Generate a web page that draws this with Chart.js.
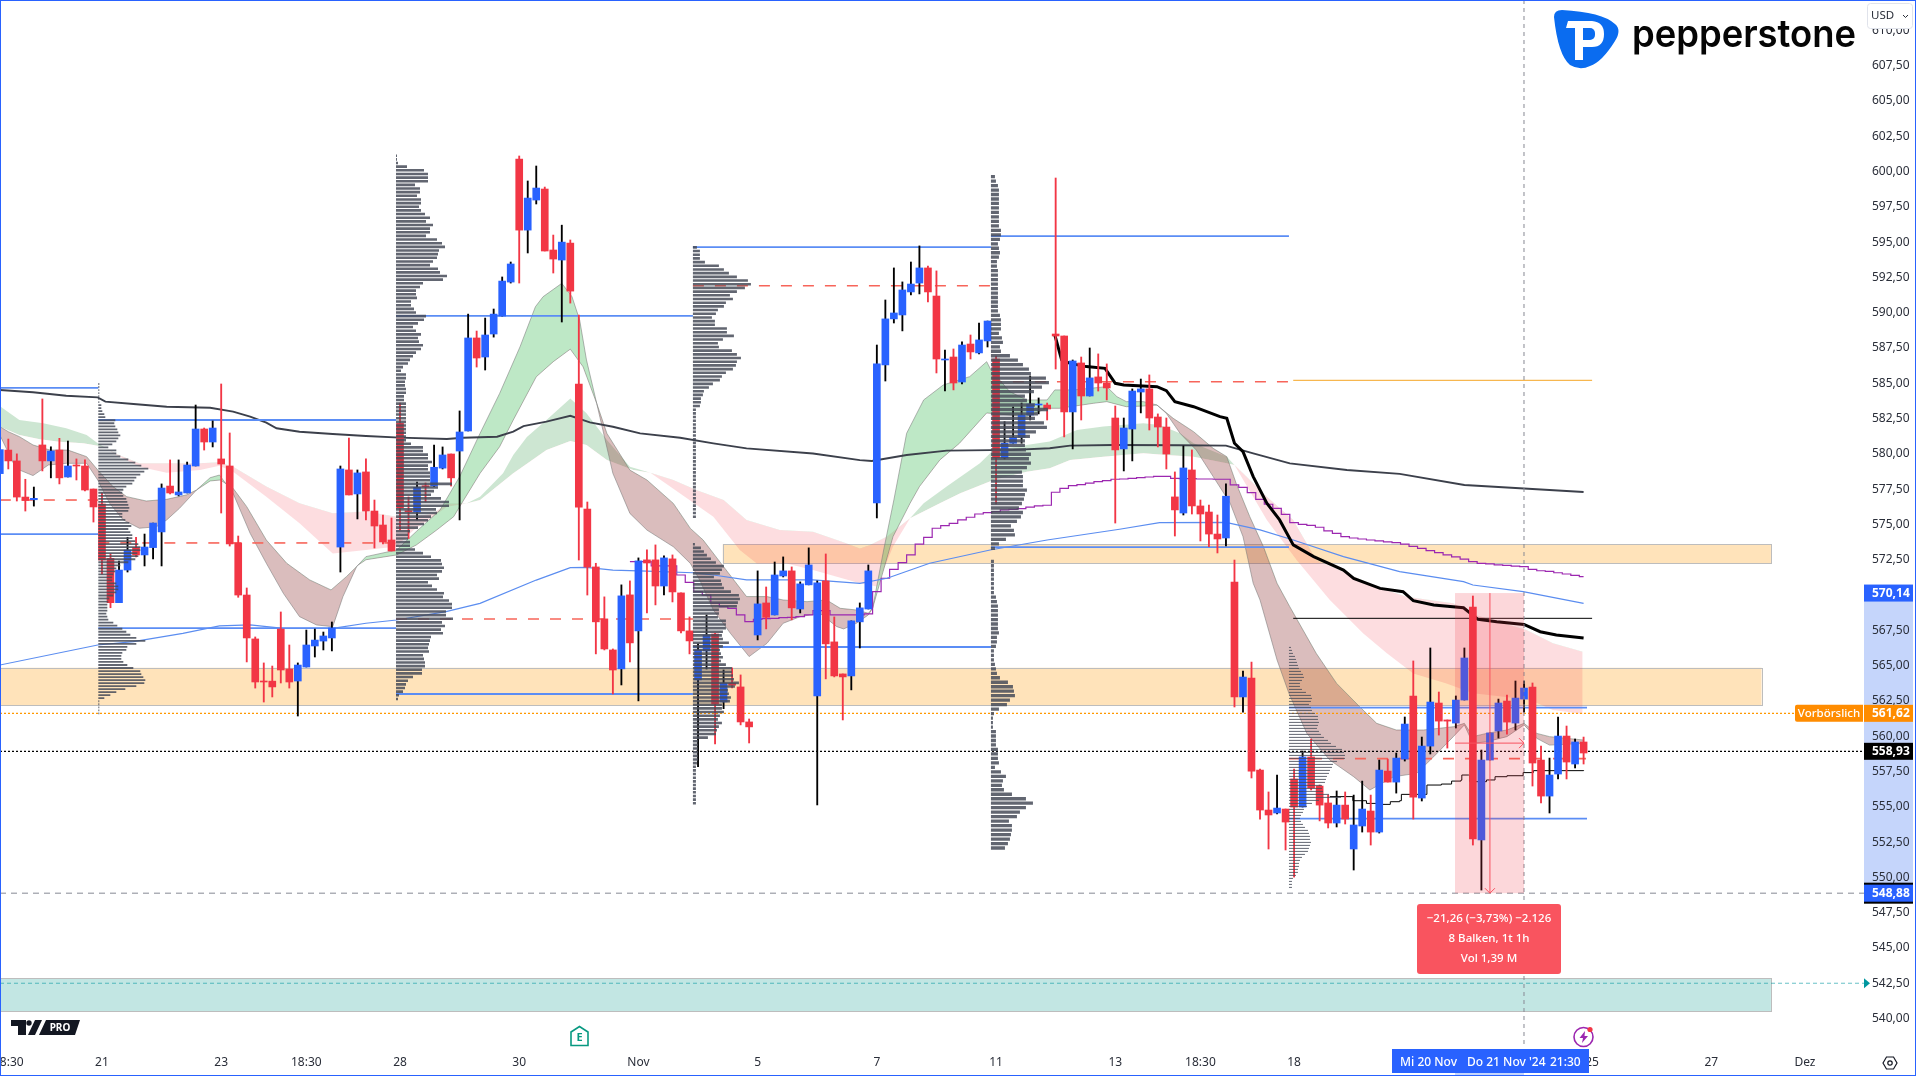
<!DOCTYPE html>
<html>
<head>
<meta charset="utf-8">
<title>Chart</title>
<script src="https://cdn.jsdelivr.net/npm/chart.js@4"></script>
<style>
html, body { margin: 0; padding: 0; background: #fff; }
canvas { display: block; }
</style>
</head>
<body>
<canvas id="myChart" width="1916" height="1076" style="width:1916px;height:1076px"></canvas>
<script>
// candles, one entry per bar
var opens = [578.6,580.27,579.5,576.94,576.75,580.63,579.5,580.27,578.36,579.2,
  579.14,577.51,576.45,572.6,569.46,571.77,573.36,572.84,573.36,574.47,
  577.72,577.09,577.23,579.14,581.76,580.84,579.64,579.14,573.69,570.0,
  566.89,563.9,563.9,567.59,564.76,563.91,564.9,566.39,566.74,566.96,
  573.4,578.86,577.16,578.72,575.95,574.96,573.9,582.16,575.95,575.88,
  577.72,577.72,578.99,579.99,580.2,581.62,588.21,586.86,588.49,589.76,
  592.17,600.88,595.85,597.98,598.76,594.44,593.73,594.93,584.95,576.09,
  571.99,568.31,566.11,564.77,570.01,567.46,572.49,572.49,570.64,572.56,
  570.15,567.46,563.99,566.04,567.24,562.43,563.75,563.49,561.01,567.17,
  569.44,568.59,571.35,571.71,569.01,570.72,562.85,571.0,566.68,564.41,
  564.27,568.1,569.01,576.52,586.3,589.56,589.84,591.47,592.1,593.17,
  591.18,586.65,586.86,585.09,587.78,587.15,588.0,586.72,579.71,580.75,
  581.17,582.75,583.46,583.46,588.49,588.35,582.97,586.44,584.1,585.45,
  585.02,582.54,580.35,581.76,584.38,584.6,582.61,581.9,576.95,575.81,
  578.86,576.31,575.88,574.32,574.04,570.92,562.78,564.12,557.6,554.77,
  554.56,554.84,556.97,554.98,558.53,556.47,555.27,553.85,555.12,552.01,
  553.64,554.7,553.21,557.53,556.75,558.38,562.85,555.62,559.3,562.35,
  561.15,560.93,562.56,569.15,552.65,558.31,560.37,562.49,560.93,562.63,
  563.48,558.31,555.76,557.32,560.01,558.03,559.59];
var closes = [580.3,579.5,576.94,576.7,576.85,579.5,580.2,578.3,579.14,579.14,
  577.44,576.24,572.48,569.46,571.77,573.19,572.84,573.4,575.1,577.58,
  577.23,577.3,579.21,581.76,580.84,581.83,579.28,573.62,570.0,566.96,
  563.84,563.84,563.49,564.69,563.84,565.04,566.46,566.81,567.1,567.67,
  578.93,577.09,578.65,575.95,574.89,573.76,573.12,576.17,575.9,577.63,
  577.67,579.05,579.92,578.3,581.55,588.21,586.79,588.42,589.9,592.24,
  593.45,595.85,598.12,598.83,594.37,593.8,595.0,591.53,576.23,571.98,
  568.1,566.18,564.69,569.94,566.61,572.42,572.27,570.64,572.63,570.22,
  567.46,566.75,566.11,567.17,562.29,563.75,563.61,561.01,560.66,569.37,
  568.42,571.42,571.71,569.09,570.79,572.13,570.86,566.54,564.27,564.2,
  568.17,569.09,571.71,586.37,589.56,589.98,591.61,592.03,593.17,591.47,
  586.72,586.72,585.02,587.71,587.22,588.07,589.41,579.71,580.75,581.17,
  582.75,583.53,583.53,583.18,588.35,582.97,586.58,584.1,585.38,585.02,
  584.67,580.28,581.83,584.45,584.6,582.54,581.9,579.99,576.03,579.0,
  576.31,575.74,574.32,573.97,577.0,562.78,564.19,557.53,554.77,554.42,
  554.91,553.92,554.98,558.53,556.33,555.12,553.85,555.12,554.13,553.71,
  554.84,553.21,557.6,556.75,558.45,560.86,555.69,559.3,562.42,561.07,
  561.07,562.56,565.54,552.72,558.31,560.23,562.35,561.0,562.7,563.41,
  558.1,555.76,557.25,560.01,558.17,559.59,558.81];
var highs = [580.3,581.05,580.0,578.2,577.65,583.89,580.5,581.1,580.91,579.64,
  579.57,577.51,577.23,572.91,572.41,574.09,574.09,574.32,575.1,577.87,
  579.57,579.57,579.42,583.46,581.83,582.33,584.95,581.48,574.18,570.5,
  567.03,565.19,564.97,568.8,566.46,565.19,567.52,567.59,567.38,568.09,
  579.14,581.12,578.86,579.64,576.73,575.67,575.46,583.6,576.95,578.0,
  577.94,580.63,580.49,579.99,583.04,589.9,588.7,589.62,590.26,592.53,
  593.59,601.1,599.33,600.39,598.9,595.5,596.2,595.15,589.83,576.59,
  572.25,569.87,566.18,570.72,571.0,572.63,573.2,573.55,572.77,572.84,
  570.15,568.45,566.54,568.59,567.29,564.69,564.84,564.34,561.22,571.71,
  570.57,572.34,572.7,571.99,570.93,573.34,571.0,572.91,568.45,564.41,
  568.17,569.44,572.13,587.71,590.9,593.17,592.18,593.59,594.73,593.31,
  592.96,587.36,587.43,587.93,588.42,589.27,589.41,586.93,582.28,583.32,
  583.6,585.52,583.96,583.6,599.54,588.35,586.65,586.86,587.5,587.08,
  586.37,583.39,582.54,584.6,585.3,585.59,582.83,582.54,578.72,580.56,
  580.28,576.73,576.38,575.67,577.87,572.48,564.62,565.25,557.67,556.05,
  557.25,554.84,557.67,558.95,559.8,556.54,555.83,556.12,556.05,555.83,
  556.82,555.83,558.31,558.38,558.81,561.36,565.33,559.94,566.25,563.13,
  561.15,562.85,566.25,569.93,559.02,560.23,562.63,562.92,563.91,563.9,
  563.77,559.3,558.45,561.36,560.72,559.8,559.94];
var lows = [578.5,578.93,576.66,575.95,576.3,578.79,578.3,577.87,578.36,578.15,
  577.37,575.17,571.49,569.1,569.46,571.63,572.7,572.06,572.55,572.06,
  577.16,577.02,577.23,579.14,580.27,580.49,575.81,573.47,569.84,565.26,
  563.41,562.42,562.78,563.77,563.41,561.43,564.9,565.61,566.11,566.04,
  571.63,577.09,575.39,575.32,573.33,573.62,573.12,574.61,574.0,575.32,
  576.6,577.68,578.93,577.72,575.32,581.62,586.15,585.94,588.27,589.76,
  592.1,592.1,594.23,597.7,594.37,592.81,589.34,590.68,572.48,570.0,
  565.83,566.11,562.99,563.63,565.26,562.5,568.73,569.3,570.01,569.51,
  567.32,565.83,557.85,564.76,559.45,561.95,563.42,560.8,559.52,566.82,
  567.6,568.59,571.28,568.24,568.73,570.72,555.13,564.06,564.2,561.15,
  563.28,566.25,569.01,575.46,585.16,589.27,588.71,591.26,591.33,590.76,
  585.73,584.45,584.53,584.95,586.72,587.08,587.57,576.45,579.64,580.75,
  580.75,582.4,582.83,582.4,586.01,581.2,580.35,582.4,584.1,584.45,
  583.82,575.1,578.79,579.5,582.9,581.69,580.49,578.93,574.18,575.67,
  575.74,573.83,573.43,572.98,573.48,562.07,561.71,557.04,554.13,552.01,
  554.49,551.94,550.02,554.98,556.19,554.0,553.5,553.57,553.78,550.52,
  553.21,552.29,553.14,556.75,555.97,558.24,554.13,555.41,558.74,560.08,
  559.16,560.58,562.56,552.29,549.1,558.31,559.87,560.15,560.44,561.71,
  556.47,555.27,554.56,556.97,556.97,557.75,558.03];

// EMA ribbon, fast pair
var fastAx = [0,1.6,2.3,3.9,5.7,7.8,10.2,11.5,12.9,14.5,16.4,18.4,19.6,21.1,23.1,24.7,25.8,27.4,29.4,31.3,33.3,35.2,37.2,39.1,40.3,41.9,43,46.6,48.9,51.7,54,56.4,58.7,61.1,62.9,63.8,66,67.2,68.1,68.9,70.1,72,74,76,79.1,81.1,82.2,83.8,85.8,88,90.1,92,94,96.3,98.3,99.1,100.6,102,102.5,103.8,105,106.5,108.5,110.8,113.9,115.9,116.4,118.6,120.6,123,123.9,126.1,130,131.2,132.3,134.3,135.9,137,138.6,140.5,142.5,144.5,146,147.2,148,150,151.4,153.5,156.2,159,160.9,163.7,166.4,168.4,170.7,172,173,174.6,177,179,180.5,182,186];
var fastAy = [581.34,579.33,578.86,578.46,579.21,579.33,579.33,578.15,576.5,575.32,574.73,574.84,575.32,576.14,577.44,578.31,578.5,577.2,574.37,572.25,570.12,568.47,567.88,567.76,569.89,572.01,572.72,573.19,574.49,576.02,578.38,581.45,584.28,587.59,590.42,591.13,592.08,591.13,589.48,586.65,583.58,578.62,575.78,574.6,573.42,572.24,571.06,568.94,567.29,565.64,566.58,568.0,568.47,568.71,567.76,567.6,568.0,568.59,569.06,573.19,576.74,581.46,583.82,584.88,585.47,586.53,585.94,584.41,583.82,583.82,584.53,584.53,584.76,584.05,583.7,583.7,583.46,582.87,581.46,580.28,578.39,576.5,574.14,570.83,569.65,565.4,563.03,560.2,558.31,557.13,556.19,557.13,557.37,558.55,559.97,560.8,559.49,559.61,559.97,560.8,559.85,559.37,559.49];
var fastBx = [0,1,2.3,3.9,5.9,8,10.2,11.5,13.3,14.9,17.2,19.6,21.9,23.1,24.7,25.9,27.4,29,31.3,33.7,36.4,38.9,40.7,42.1,43,46.6,48.9,51.3,53.3,54,56.4,58.7,60.3,63,65,67,68.5,70.1,71.3,74,76,79.1,81.1,82.6,85,87.7,90.1,92,94.8,97.1,98.7,100.6,102,102.5,104.9,106.9,108,110.4,112.7,115.9,120.6,123,124.5,128.4,130,132.3,134.3,135.9,137.8,140.2,142.5,144.1,145.2,146.8,148.4,150,151.5,154.6,157,159.7,161.7,164,167.2,170.7,172,173,174.6,177,179,180.5,182,186];
var fastBy = [581.93,581.57,581.22,580.63,580.27,580.27,579.8,578.86,577.68,576.97,576.66,576.78,577.09,577.44,578.08,578.15,577.56,576.26,573.9,572.25,571.07,570.36,571.3,572.13,572.5,572.84,573.54,574.6,575.55,576.26,578.62,580.51,582.4,585.46,586.53,587.42,586.17,583.58,581.45,578.85,578.15,576.49,574.72,573.9,572.01,569.89,569.89,569.65,569.53,569.65,569.06,568.94,568.71,569.06,574.14,576.5,577.68,579.57,580.75,582.9,582.64,583.23,583.23,583.58,583.7,583.34,583.39,583.46,582.52,581.57,580.39,579.8,577.91,575.55,573.43,570.83,569.17,565.87,563.74,562.09,560.91,560.44,560.44,560.67,560.91,559.97,560.2,560.44,560.91,560.2,559.97,559.73];

// EMA ribbon, slow pair
var slowCx = [0,2.3,5.1,7.8,10.2,11.5,12.5,13.7,16.4,19.6,23.5,25.8,27.4,31.3,35.2,39.1,43,46.6,48.6,50.9,52.5,54.8,56.4,59.1,60.3,61.9,64.2,67,68.9,71.3,74,76,76.4,79.9,83.8,86.9,88.9,92.4,95.5,98.3,101,103,104.9,106.9,108.5,111.2,115.1,116.7,123.3,126.5,129.6,134.3,136.2,138.6,140.2,144.1,145,148.8,152.3,156.2,160.1,162.9,166,169.9,173,176.6,179.7,182.4,185.9];
var slowCy = [583.39,582.4,582.16,581.81,581.34,580.75,580.39,579.92,579.09,578.67,578.86,579.16,578.74,576.97,575.08,572.95,573.19,573.43,574.6,575.55,576.26,576.49,576.96,578.62,579.92,581.2,582.4,583.93,582.87,580.98,579.09,578.74,578.67,577.2,575.55,573.19,572.24,572.24,571.77,571.3,570.83,570.6,573.43,575.44,576.5,577.68,579.33,580.28,580.87,581.69,581.93,582.16,582.05,581.46,580.75,579.8,579.21,575.32,572.48,569.65,567.29,565.87,564.45,563.74,563.04,562.8,562.56,561.85,561.57];
var slowDx = [0,2.3,4.7,7,9.8,11.5,12.5,13.7,16.4,19.6,23.5,25.8,27.4,31.3,35.2,39.1,43,46.6,48.6,50.9,52.5,54.8,56.4,60.3,61.9,64.2,67,68.9,71.3,74.4,76.4,79.1,81.8,85,87.7,91.6,95.5,99.4,101,102.2,104.2,106.9,110.4,112.8,116.7,120.6,123.3,125.7,129.6,134.3,137,140.2,144.1,145,146.4,148.8,151.9,154.6,158.2,161.7,165.2,170.7,172.7,179.3,182.4,185.9];
var slowDy = [581.93,581.34,581.03,580.86,580.75,580.58,580.39,579.99,579.33,579.33,579.33,579.4,579.09,577.68,576.5,575.79,575.91,575.55,575.55,575.78,576.49,576.49,576.73,578.62,579.3,580.27,580.91,580.62,579.56,578.85,578.67,578.15,577.44,576.73,575.31,574.6,574.49,573.66,573.3,573.55,574.14,575.44,576.5,577.21,578.15,578.74,578.98,579.57,579.8,580.04,579.92,579.8,579.33,579.21,578.39,576.97,575.32,572.48,571.54,570.59,569.88,569.41,568.7,567.52,566.58,565.99];

// moving averages
var smaX = [0,3.9,7.8,11.5,12.4,15.7,19.6,24.7,27.4,29.4,31.3,32.5,35.2,39.1,43,47,52.5,54.4,58.4,60.3,61.5,64.2,67,69.3,72,75.2,79.9,83.8,87.7,95.5,101,102.4,106.5,111.2,119,123.3,125.7,130.8,138.6,144,147.2,151.5,158.2,164.4,172,186];
var smaY = [584.52,584.36,584.12,584.0,583.7,583.53,583.34,583.27,582.99,582.64,582.21,581.81,581.57,581.41,581.27,581.15,581.05,581.14,581.21,581.57,581.97,582.28,582.7,582.23,581.92,581.45,581.14,580.74,580.39,580.03,579.56,579.5,579.92,580.23,580.28,580.4,580.58,580.63,580.61,580.58,580.04,579.33,578.86,578.58,577.79,577.3];
var maX = [0,11.5,15.7,21.5,25.8,29.4,33.3,39.1,43,46.6,52.4,56.4,63,67,68.9,72,76,81.4,83.8,87.7,95.5,101,104.2,109.2,116.3,123,131.5,136.2,144,148,151.9,157.8,164.4,171.9,173,178.9,186];
var maY = [565.04,566.46,566.7,567.29,567.81,567.88,567.64,567.64,568.0,568.23,568.82,569.41,571.06,571.94,571.96,571.77,571.7,571.58,571.42,571.07,571.07,570.83,571.19,572.25,573.19,573.9,574.66,575.13,575.15,574.61,573.9,572.72,571.66,570.95,570.71,570.24,569.41];
// stepped session average, bar 74 to bar 186
var vwapStart = 74;
var vwapY = [572.37,572.37,572.37,572.06,572.06,572.06,571.42,570.9,570.24,569.99,569.42,569.18,569.06,568.59,568.12,568.28,568.33,568.35,568.4,568.42,568.47,568.59,568.9,568.9,568.59,568.59,568.59,568.59,568.66,570.24,571.19,571.82,572.3,572.84,573.6,574.09,574.73,574.92,575.08,575.32,575.51,575.74,575.84,575.91,576.03,576.07,576.12,576.22,576.31,576.36,577.28,577.56,577.75,577.82,577.92,578.03,578.1,578.2,578.22,578.27,578.32,578.36,578.41,578.41,578.27,578.25,578.25,578.22,578.22,578.2,578.2,577.8,577.63,577.25,576.78,576.43,576.14,575.72,575.13,575.01,574.94,574.8,574.54,574.37,574.14,574.04,573.97,573.9,573.83,573.76,573.71,573.6,573.45,573.3,573.15,573.0,572.85,572.7,572.55,572.36,572.24,572.2,572.13,572.1,572.05,572.01,571.82,571.72,571.68,571.58,571.49,571.39,571.3];
var thickX = [123.9,124.7,125.7,127.6,129.8,131,132,135.9,137,138,140.2,143.3,144.1,145,146,147.2,148.8,150.3,151.9,154.3,157.8,159,162.1,164.8,166,168.4,171.9,173.6,175.8,179,180.9,182.8,186];
var thickY = [588.42,586.65,586.41,586.18,586.06,585.0,584.88,584.76,584.48,583.7,583.34,582.64,582.52,580.75,580.16,578.39,576.5,575.32,573.55,572.72,571.77,571.18,570.47,570.24,569.6,569.3,569.1,568.28,568.11,567.92,567.4,567.17,566.95];
var thinX = [156.2,158.9,160.5,161.7,163.3,164.4,164.6,167.4,167.6,169.3,170.5,171.6,171.7,172.5,172.6,174.6,175.6,177,178.9,180.1,186];
var thinY = [555.72,555.43,555.24,555.17,555.36,555.43,555.88,555.88,556.54,556.61,556.82,556.89,557.25,557.25,556.78,556.9,557.13,557.2,557.42,557.56,557.6];

// volume profiles, volume per price row, top row first
var volA = [1,1,1,1,1,1,1,3,3,4,6,7,17,16,17,19,20,22,20,18,14,10,18,18,22,30,37,43,50,46,42,38,36,34,28,25,24,25,28,29,30,31,30,24,24,27,31,33,30,32,34,34,37,40,42,42,39,40,37,30,22,18,17,15,14,14,18,20,20,18,15,11,10,9,9,9,8,9,10,15,19,24,28,32,38,47,38,29,28,24,23,23,25,29,35,42,43,45,47,46,38,27,18,12,6,1,1,1,1,1];
var volB = [1,1,2,11,28,32,32,32,19,24,24,21,25,25,23,25,29,34,30,37,34,34,30,41,46,49,43,42,41,37,34,42,44,51,47,27,24,20,20,21,15,15,18,20,30,28,22,17,20,25,22,23,27,25,20,17,14,12,7,5,10,10,9,9,10,10,8,8,10,10,10,10,10,10,10,10,10,10,10,15,27,27,32,32,36,32,32,34,34,34,56,42,38,35,45,53,53,40,41,35,32,28,22,14,12,12,14,14,19,27,35,45,46,48,46,41,43,32,36,41,48,47,53,56,56,50,50,57,46,49,45,47,35,34,33,32,33,27,28,29,29,26,26,17,12,10,9,7,3,2];
var volC1 = [4,7,7,7,12,26,31,36,44,55,58,52,44,37,40,33,31,25,23,19,22,22,34,34,41,30,25,26,39,44,48,44,43,40,33,29,27,20,16,11,10,8,8,7,3,3,3,3,3,3,3,3,3,3,3,3,3,3,3,3,3,3,3,3,3,3,3,3,3,3,3,3,3,3];
var volC2 = [2,8,11,14,18,23,31,29,27,21,28,29,31,38,46,47,45,44,26,26,25,33,33,33,30,29,30,36,30,27,28,30,28,33,39,39,40,41,46,42,35,36,38,37,29,29,31,27,25,29,26,24,23,15,5,5,5,5,5,5,4,3,3,3,3,3,3,3,3,3,3,3];
var volD1 = [4,5,7,8,8,8,8,8,8,8,8,8,10,10,9,7,8,9,8,6,6,7,7,7,7,7,7,7,7,7,7,9,10,10,10,8,11,12,9,10,19,27,32,38,40,55,58,51,43,34,36,44,57,47,44,53,56,45,39,34,34,35,40,38,40,36,31,32,32,32,36,34,33,31,28,32,30,26,20,23,24,15,8,4];
var volD2 = [3,3,3,3,3,3,3,3,5,6,7,7,7,7,7,7,8,6,6,5,3,3,3,4,5,6,9,17,22,23,24,19,16,8,3,2,2,2,5,5,5,5,7,7,7,8,4,10,15,12,11,13,21,35,42,35,29,26,18,21,21,20,19,17,14];
var volE = [2,3,4,6,7,8,9,10,12,14,15,13,11,11,13,17,22,23,22,20,22,23,26,29,29,30,29,28,30,32,35,39,42,47,53,55,56,56,48,44,43,41,40,38,37,36,33,33,34,40,52,30,23,18,15,14,12,11,12,14,16,19,20,21,21,22,21,20,19,16,13,11,10,10,9,9,7,4,3,3,3];

// profile placement: bar index, top price, bottom price
var profA = [11.57,584.95,561.62];
var profB = [46.53,601.12,562.64];
var profC1 = [81.4,594.63,575.55];
var profC2 = [81.4,573.6,555.25];
var profD1 = [116.4,599.64,573.31];
var profD2 = [116.4,572.39,552.08];
var profE = [151.4,566.29,549.29];

// levels [price, from bar, to bar]
var valueLevels = [[584.67,0,11.57],[574.32,0,11.57],[582.4,11.57,46.53],[567.66,11.57,46.53],[589.77,46.53,81.4],[562.99,46.53,81.4],[594.65,81.4,116.4],[566.32,81.4,116.4],[595.43,116.4,151.4],[573.4,116.4,151.4],[562.02,151.4,186.4],[554.16,151.4,186.4]];
var pocLevels = [[576.73,0,11.57],[573.69,11.57,46.53],[568.3,46.53,81.4],[591.91,81.4,116.4],[585.11,116.4,151.4],[558.41,151.4,186.4]];
var prePrice = 561.62, lastPrice = 558.93, crossPrice = 548.88, maTag = 570.14, targetPrice = 542.5;

// zones [top price, bottom price, from bar, to bar]
var orangeZones = [[564.85,562.2,0,206.9],[573.6,572.25,84.9,208]];
var greenZone = [542.85,540.5,0,208];
var measure = {from:170.9, to:179, top:570.14, bottom:548.88, mid:175};

var yTickStep = 2.5;
var xTickPos = [1,12,26,36,47,61,75,89,103,117,131,141,152,187,201,212];
var xTickText = ['18:30','21','23','18:30','28','30','Nov','5','7','11','13','18:30','18','25','27','Dez'];

var RED = '#f23645', BLUE = '#2962ff';
var barPx = 8.515, plotW = 1864, plotH = 1048, pxPerUsd = 14.117, topPrice = 612.15;
var xMin = 0.2 / barPx, xMax = (plotW + 0.2) / barPx;
var yMax = topPrice, yMin = topPrice - plotH / pxPerUsd;
var uiFont = '"Noto Sans", sans-serif';

function pts(xs, ys) {
  return xs.map(function (x, i) { return {x: x, y: ys[i]}; });
}
function lineSet(data, color, width, order, extra) {
  return Object.assign({
    type: 'line', data: data, borderColor: color, borderWidth: width, order: order,
    pointRadius: 0, pointHoverRadius: 0, tension: 0, fill: false, spanGaps: false
  }, extra || {});
}
// every row of a profile is its own short line, rows broken by empty points
function profileSet(place, vols, width) {
  var rows = [];
  var base = place[0], top = place[1], bottom = place[2];
  vols.forEach(function (v, r) {
    var p = top - (top - bottom) * r / (vols.length - 1);
    rows.push({x: base, y: p}, {x: base + v / barPx, y: p}, {x: base + v / barPx, y: null});
  });
  return lineSet(rows, 'rgba(70,75,88,0.85)', width, 2, {borderCapStyle: 'butt'});
}

var bars = opens.map(function (o, i) { return i; });
var bodyColors = opens.map(function (o, i) { return closes[i] < o ? RED : BLUE; });
var wickColors = opens.map(function (o, i) { return closes[i] < o ? RED : '#000000'; });

var datasets = [
  lineSet(pts(fastAx, fastAy), 'rgba(120,120,120,0.55)', 1, 7, {fill: {target: 1, above: 'rgba(76,190,96,0.36)', below: 'rgba(140,50,50,0.32)'}}),
  lineSet(pts(fastBx, fastBy), 'rgba(120,120,120,0.55)', 1, 7),
  lineSet(pts(slowCx, slowCy), 'rgba(0,0,0,0)', 0, 8, {fill: {target: 3, above: 'rgba(60,160,80,0.26)', below: 'rgba(242,54,69,0.17)'}}),
  lineSet(pts(slowDx, slowDy), 'rgba(0,0,0,0)', 0, 8),
  lineSet(pts(smaX, smaY), '#3c404b', 1.9, 6),
  lineSet(pts(maX, maY), '#5b8df0', 1.2, 6),
  lineSet(vwapY.map(function (v, i) { return {x: vwapStart + i, y: v}; }), '#9c27b0', 1.2, 6, {stepped: 'middle'}),
  lineSet(pts(thinX, thinY), '#000000', 1, 6, {stepped: true}),
  lineSet(pts(thickX, thickY), '#000000', 3, 5),
  lineSet([{x: 151.9, y: 585.21}, {x: 187, y: 585.21}], '#f5a623', 1, 6),
  lineSet([{x: 151.9, y: 568.35}, {x: 187, y: 568.35}], '#000000', 1, 6),
  lineSet([{x: xMin, y: prePrice}, {x: xMax, y: prePrice}], '#ff9800', 1.2, 6, {borderDash: [2, 2]}),
  lineSet([{x: xMin, y: lastPrice}, {x: xMax, y: lastPrice}], '#000000', 1.2, 6, {borderDash: [2, 2]}),
  lineSet([{x: xMin, y: crossPrice}, {x: xMax, y: crossPrice}], '#868993', 1, 1, {borderDash: [6, 5]}),
  lineSet([{x: 179, y: yMax}, {x: 179, y: yMin}], '#868993', 1, 1, {borderDash: [4, 4]}),
  lineSet([{x: xMin, y: targetPrice}, {x: xMax, y: targetPrice}], 'rgba(0,150,160,0.6)', 1, 1, {borderDash: [4, 3]}),
  {type: 'bar', data: bars.map(function (i) { return {x: i, y: [lows[i], highs[i]]}; }), backgroundColor: wickColors,
    barThickness: 1.2, grouped: false, order: 4},
  {type: 'bar', data: bars.map(function (i) { return {x: i, y: [opens[i], closes[i]]}; }), backgroundColor: bodyColors,
    barThickness: 7, minBarLength: 1, grouped: false, order: 3},
  profileSet(profA, volA, 1.8),
  profileSet(profB, volB, 2.6),
  profileSet(profC1, volC1, 2.6),
  profileSet(profC2, volC2, 2.6),
  profileSet(profD1, volD1, 3.3),
  profileSet(profD2, volD2, 3.3),
  profileSet(profE, volE, 1)
];
valueLevels.forEach(function (l) {
  datasets.push(lineSet([{x: l[1], y: l[0]}, {x: l[2], y: l[0]}], '#5b8df5', 1.8, 4.5));
});
pocLevels.forEach(function (l) {
  datasets.push(lineSet([{x: l[1], y: l[0]}, {x: l[2], y: l[0]}], '#f7655a', 1.6, 4.5, {borderDash: [11, 11]}));
});

function zoneRect(ctx, scales, z, fill) {
  var x0 = scales.x.getPixelForValue(z[2]), x1 = scales.x.getPixelForValue(z[3]);
  var y0 = scales.y.getPixelForValue(z[0]), y1 = scales.y.getPixelForValue(z[1]);
  ctx.fillStyle = fill;
  ctx.fillRect(x0, y0, x1 - x0, y1 - y0);
  ctx.strokeStyle = '#bdbdbd';
  ctx.lineWidth = 1;
  ctx.strokeRect(Math.round(x0) + 0.5, Math.round(y0) + 0.5, Math.round(x1 - x0), Math.round(y1 - y0));
}

function tag(ctx, y, bg, text) {
  ctx.fillStyle = bg;
  ctx.fillRect(1864, y - 8.5, 49, 17);
  ctx.fillStyle = '#fff';
  ctx.font = 'bold 12px ' + uiFont;
  ctx.textAlign = 'left';
  ctx.textBaseline = 'middle';
  ctx.fillText(text, 1872, y + 0.5);
}

var zonesPlugin = {
  id: 'zones',
  beforeDraw: function (chart) {
    // range highlight on the price axis
    var y = chart.scales.y, ctx = chart.ctx;
    ctx.fillStyle = '#c5d5fb';
    ctx.fillRect(1864, y.getPixelForValue(measure.top), 49, y.getPixelForValue(measure.bottom) - y.getPixelForValue(measure.top));
  },
  beforeDatasetsDraw: function (chart) {
    var ctx = chart.ctx;
    orangeZones.forEach(function (z) { zoneRect(ctx, chart.scales, z, 'rgba(255,152,0,0.27)'); });
    zoneRect(ctx, chart.scales, greenZone, 'rgba(0,150,136,0.24)');
  },
  afterDatasetsDraw: function (chart) {
    var ctx = chart.ctx, sx = chart.scales.x, sy = chart.scales.y;
    var x0 = sx.getPixelForValue(measure.from), x1 = sx.getPixelForValue(measure.to);
    var y0 = sy.getPixelForValue(measure.top), y1 = sy.getPixelForValue(measure.bottom);
    var xm = sx.getPixelForValue(measure.mid), ym = (y0 + y1) / 2;
    ctx.fillStyle = 'rgba(242,54,69,0.2)';
    ctx.fillRect(x0, y0, x1 - x0, y1 - y0);
    ctx.strokeStyle = '#f7525f';
    ctx.lineWidth = 1;
    ctx.beginPath();
    ctx.moveTo(xm, y0); ctx.lineTo(xm, y1);
    ctx.moveTo(xm - 5, y1 - 5); ctx.lineTo(xm, y1); ctx.lineTo(xm + 5, y1 - 5);
    ctx.moveTo(x0, ym); ctx.lineTo(x1, ym);
    ctx.moveTo(x1 - 5, ym - 5); ctx.lineTo(x1, ym); ctx.lineTo(x1 - 5, ym + 5);
    ctx.stroke();
  },
  afterDraw: function (chart) {
    var ctx = chart.ctx, sy = chart.scales.y;
    ctx.save();

    // measure label
    ctx.fillStyle = '#f9545f';
    ctx.beginPath();
    ctx.roundRect(1417, 904, 144, 70, 3);
    ctx.fill();
    ctx.fillStyle = '#fff';
    ctx.font = '500 11.5px ' + uiFont;
    ctx.textAlign = 'center';
    ctx.textBaseline = 'middle';
    ctx.fillText('\u221221,26 (\u22123,73%) \u22122.126', 1489, 919);
    ctx.fillText('8 Balken, 1t 1h', 1489, 939);
    ctx.fillText('Vol 1,39 M', 1489, 959);

    // price tags
    tag(ctx, sy.getPixelForValue(maTag), BLUE, '570,14');
    tag(ctx, sy.getPixelForValue(prePrice), '#ff8c00', '561,62');
    ctx.fillStyle = '#ff8c00';
    ctx.beginPath();
    ctx.roundRect(1795, sy.getPixelForValue(prePrice) - 8.5, 68, 17, [2, 0, 0, 2]);
    ctx.fill();
    ctx.fillStyle = '#fff';
    ctx.font = '500 11.5px ' + uiFont;
    ctx.textAlign = 'center';
    ctx.fillText('Vorb\u00f6rslich', 1829, sy.getPixelForValue(prePrice) + 0.5);
    tag(ctx, sy.getPixelForValue(lastPrice), '#000', '558,93');
    ctx.fillStyle = '#000';
    ctx.fillRect(1864, sy.getPixelForValue(crossPrice) - 10.5, 49, 21);
    tag(ctx, sy.getPixelForValue(crossPrice), BLUE, '548,88');

    // alert marker on the scale
    ctx.fillStyle = '#00979f';
    var ty = sy.getPixelForValue(targetPrice);
    ctx.beginPath();
    ctx.moveTo(1864, ty - 5); ctx.lineTo(1870, ty); ctx.lineTo(1864, ty + 5);
    ctx.fill();

    // currency box
    ctx.fillStyle = '#fff';
    ctx.strokeStyle = '#e0e3eb';
    ctx.beginPath();
    ctx.roundRect(1867.5, 3.5, 45, 25, 3);
    ctx.fill();
    ctx.stroke();
    ctx.fillStyle = '#2a2e39';
    ctx.font = '11.5px ' + uiFont;
    ctx.textAlign = 'left';
    ctx.fillText('USD', 1871, 16);
    ctx.strokeStyle = '#2a2e39';
    ctx.lineWidth = 1;
    ctx.beginPath();
    ctx.moveTo(1903, 15); ctx.lineTo(1905.5, 17.5); ctx.lineTo(1908, 15);
    ctx.stroke();

    // broker logo
    ctx.fillStyle = '#0a6cf0';
    ctx.beginPath();
    ctx.moveTo(1554, 17);
    ctx.quadraticCurveTo(1554, 10, 1562, 10);
    ctx.quadraticCurveTo(1602, 12, 1615, 24);
    ctx.quadraticCurveTo(1622, 30, 1615, 41);
    ctx.quadraticCurveTo(1602, 62, 1590, 66);
    ctx.quadraticCurveTo(1580, 71, 1570, 65);
    ctx.quadraticCurveTo(1558, 55, 1554, 17);
    ctx.fill();
    ctx.fillStyle = '#fff';
    ctx.beginPath();
    ctx.moveTo(1568, 21);
    ctx.lineTo(1592, 21);
    ctx.quadraticCurveTo(1604, 22, 1604, 34);
    ctx.quadraticCurveTo(1604, 47, 1592, 47);
    ctx.lineTo(1583, 47);
    ctx.lineTo(1583, 60);
    ctx.lineTo(1575, 60);
    ctx.lineTo(1575, 28);
    ctx.lineTo(1566, 28);
    ctx.closePath();
    ctx.fill();
    ctx.fillStyle = '#0a6cf0';
    ctx.beginPath();
    ctx.roundRect(1583, 28, 12, 12, [0, 5, 5, 0]);
    ctx.fill();
    ctx.fillStyle = '#050505';
    ctx.font = '600 38px Inter, sans-serif';
    ctx.textBaseline = 'alphabetic';
    ctx.textAlign = 'left';
    var w = ctx.measureText('pepperstone').width;
    ctx.save();
    ctx.translate(1632, 46.5);
    ctx.scale(224 / w, 1);
    ctx.fillText('pepperstone', 0, 0);
    ctx.restore();

    // platform logo
    ctx.fillStyle = '#131722';
    ctx.fillRect(11, 1020, 15, 6);
    ctx.fillRect(18, 1020, 8, 15);
    ctx.beginPath();
    ctx.arc(29, 1023, 2.7, 0, Math.PI * 2);
    ctx.fill();
    ctx.beginPath();
    ctx.moveTo(28, 1035); ctx.lineTo(35, 1020); ctx.lineTo(42, 1020); ctx.lineTo(35, 1035);
    ctx.fill();
    ctx.beginPath();
    ctx.moveTo(39, 1035); ctx.lineTo(46, 1020); ctx.lineTo(80, 1020); ctx.lineTo(75, 1035);
    ctx.fill();
    ctx.fillStyle = '#fff';
    ctx.font = 'bold 10px ' + uiFont;
    ctx.textBaseline = 'middle';
    ctx.textAlign = 'center';
    ctx.fillText('PRO', 60, 1028);

    // earnings marker
    ctx.strokeStyle = '#089981';
    ctx.lineWidth = 1.6;
    ctx.beginPath();
    ctx.moveTo(571, 1032); ctx.lineTo(579.5, 1026.5); ctx.lineTo(588, 1032);
    ctx.lineTo(588, 1045.5); ctx.lineTo(571, 1045.5); ctx.closePath();
    ctx.stroke();
    ctx.fillStyle = '#089981';
    ctx.font = 'bold 11px ' + uiFont;
    ctx.fillText('E', 579.5, 1037.5);

    // news marker
    ctx.strokeStyle = '#9c27b0';
    ctx.lineWidth = 1.6;
    ctx.beginPath();
    ctx.arc(1583.5, 1037, 9.5, 0, Math.PI * 2);
    ctx.stroke();
    ctx.fillStyle = '#9c27b0';
    ctx.beginPath();
    ctx.moveTo(1585, 1031); ctx.lineTo(1579.5, 1038); ctx.lineTo(1583, 1038);
    ctx.lineTo(1582, 1043); ctx.lineTo(1588, 1036); ctx.lineTo(1584.5, 1036);
    ctx.closePath();
    ctx.fill();
    ctx.fillStyle = '#f23645';
    ctx.beginPath();
    ctx.arc(1590, 1029.5, 2.6, 0, Math.PI * 2);
    ctx.fill();

    // crosshair dates on the time axis
    ctx.fillStyle = '#c5d5fb';
    ctx.fillRect(1455, 1073, 69, 2);
    ctx.fillStyle = BLUE;
    ctx.fillRect(1392, 1049, 197, 24);
    ctx.fillStyle = '#fff';
    ctx.font = '500 12px ' + uiFont;
    ctx.textAlign = 'left';
    ctx.save();
    ctx.beginPath();
    ctx.rect(1392, 1049, 66, 24);
    ctx.clip();
    ctx.fillText('Mi 20 Nov \'24', 1400, 1063);
    ctx.restore();
    ctx.fillText('Do 21 Nov \'24', 1467, 1063);
    ctx.fillText('21:30', 1550, 1063);

    // settings icon
    ctx.strokeStyle = '#131722';
    ctx.lineWidth = 1.2;
    ctx.beginPath();
    [[1883, 1063], [1886.5, 1057], [1893.5, 1057], [1897, 1063], [1893.5, 1069], [1886.5, 1069]].forEach(function (p, i) {
      if (i === 0) ctx.moveTo(p[0], p[1]); else ctx.lineTo(p[0], p[1]);
    });
    ctx.closePath();
    ctx.stroke();
    ctx.beginPath();
    ctx.arc(1890, 1063, 2.2, 0, Math.PI * 2);
    ctx.stroke();

    // window frame
    ctx.strokeStyle = '#2962ff';
    ctx.lineWidth = 1;
    ctx.strokeRect(0.5, 0.5, 1915, 1075);
    ctx.restore();
  }
};

Chart.defaults.font.family = uiFont;
var myChart = new Chart(document.getElementById('myChart'), {
  type: 'line',
  data: {datasets: datasets},
  plugins: [zonesPlugin],
  options: {
    responsive: false,
    animation: false,
    devicePixelRatio: 1,
    layout: {padding: 0},
    interaction: {mode: null},
    events: [],
    plugins: {legend: {display: false}, tooltip: {enabled: false}, filler: {propagate: false}},
    scales: {
      x: {
        type: 'linear', min: xMin, max: xMax, offset: false,
        grid: {display: false, offset: false, drawTicks: false, tickLength: 0}, border: {display: false},
        afterBuildTicks: function (axis) {
          axis.ticks = xTickPos.map(function (v) { return {value: v}; });
        },
        ticks: {
          autoSkip: false, maxRotation: 0, minRotation: 0, padding: 7, color: '#2a2e39', font: {size: 12},
          callback: function (value) { return xTickText[xTickPos.indexOf(value)]; }
        },
        afterFit: function (axis) { axis.height = 1076 - plotH; axis.paddingLeft = 0; axis.paddingRight = 0; }
      },
      y: {
        type: 'linear', position: 'right', min: yMin, max: yMax,
        grid: {display: false, drawTicks: false, tickLength: 0}, border: {display: false},
        ticks: {
          stepSize: yTickStep, includeBounds: false, autoSkip: false, padding: 8, color: '#2a2e39', font: {size: 12},
          callback: function (value) { return value.toFixed(2).replace('.', ','); }
        },
        afterFit: function (axis) { axis.width = 1916 - plotW; axis.paddingTop = 0; axis.paddingBottom = 0; }
      }
    }
  }
});
</script>
</body>
</html>
